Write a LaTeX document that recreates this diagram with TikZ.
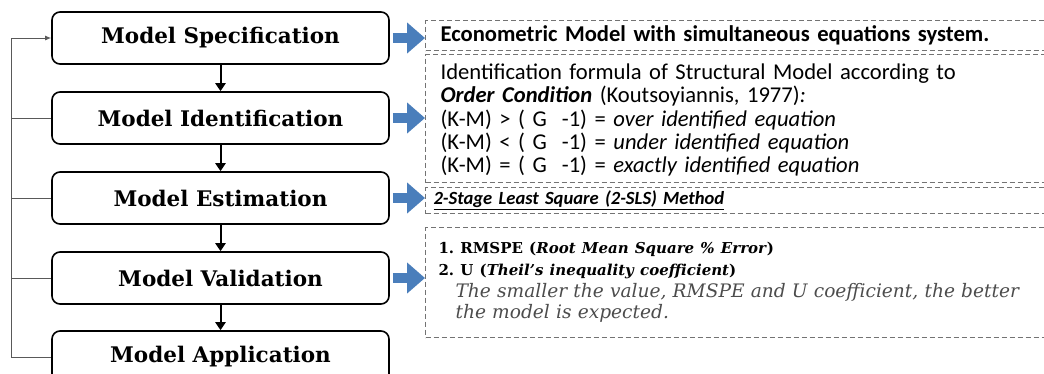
\documentclass[tikz,border=0pt]{standalone}
\usepackage{fontspec}
\setmainfont{DejaVu Serif}
\newfontfamily\calfont{Carlito}
\usetikzlibrary{arrows.meta}
\definecolor{arrowblue}{RGB}{74,126,187}

\begin{document}
\begin{tikzpicture}[x=1pt, y=-1pt,
    stage/.style={draw, rounded corners=8pt, line width=1.6pt, minimum width=337pt, minimum height=52pt,
        font=\bfseries\fontsize{21.5}{24}\selectfont},
    note/.style={draw=black!55, dash pattern=on 5pt off 3pt, line width=1.1pt, anchor=north west,
        inner xsep=15pt, inner ysep=0pt, text width=620pt, align=left,
        font=\calfont\fontsize{22.6}{23.3}\selectfont},
    flow/.style={line width=2pt, -{Triangle[width=10pt,length=8pt]}},
    feed/.style={draw=black!65, line width=1pt},
    push/.style={line width=10pt, arrowblue, shorten <=3pt, -{Triangle[width=30pt,length=18pt]}}]
    \useasboundingbox (0,0) rectangle (1044,373);
    \clip (0,0) rectangle (1044,373);
    % Left: Stages
    \node[stage] (m1) at (220.5,38) {Model Specification};
    \node[stage] (m2) at (220.5,118) {Model Identification};
    \node[stage] (m3) at (220.5,198) {Model Estimation};
    \node[stage] (m4) at (220.5,278) {Model Validation};
    \node[stage] (m5) at (220.5,357) {Model Application};
    % Edges
    \draw[flow] (m1) -- (m2);
    \draw[flow] (m2) -- (m3);
    \draw[flow] (m3) -- (m4);
    \draw[flow] (m4) -- (m5);
    % Feedback line
    \draw[feed, -{Latex[length=6pt,width=5pt]}] (m5.west) -- ++(-40,0) |- (m1.west);
    \foreach \n in {m2,m3,m4}
        \draw[feed] (\n.west) -- ++(-40,0);

    % Right: Notes
    \node[note, minimum height=30pt] (spec) at (425,20)
        {\textbf{Econometric Model with simultaneous equations system.}};
    \node[note, minimum height=128pt] (ident) at (425,54)
        {\rule{0pt}{19pt}Identification formula of Structural Model according to\\
         \textbf{\textit{Order Condition}} (Koutsoyiannis, 1977)\textit{:}\\
         (K-M) > ( G\ \ -1) = \textit{over identified equation}\\
         (K-M) < ( G\ \ -1) = \textit{under identified equation}\\
         (K-M) = ( G\ \ -1) = \textit{exactly identified equation}};
    \node[note, minimum height=26pt, inner xsep=8pt, font=\calfont\fontsize{18.6}{22}\selectfont] (estim) at (425,187)
        {\textbf{\textit{\underline{2-Stage Least Square (2-SLS) Method}}}};
    \node[note, minimum height=110pt, inner xsep=13pt, font=\fontsize{18.6}{21.7}\selectfont] (valid) at (425,227)
        {{\fontsize{15}{21.7}\selectfont\bfseries 1.\ RMSPE (\textit{Root Mean Square \% Error})}\\
         {\fontsize{15}{21.7}\selectfont\bfseries 2.\ U (\textit{Theil's inequality coefficient})}\\
         \hspace*{17pt}{\color{black!70}\itshape The smaller the value, RMSPE and U coefficient, the better}\\
         \hspace*{17pt}{\color{black!70}\itshape the model is expected.}};
    % Blue arrows
    \draw[push] (m1.east) -- (m1.east -| spec.west);
    \draw[push] (m2.east) -- (m2.east -| ident.west);
    \draw[push] (m3.east) -- (m3.east -| estim.west);
    \draw[push] (m4.east) -- (m4.east -| valid.west);
\end{tikzpicture}
\end{document}
